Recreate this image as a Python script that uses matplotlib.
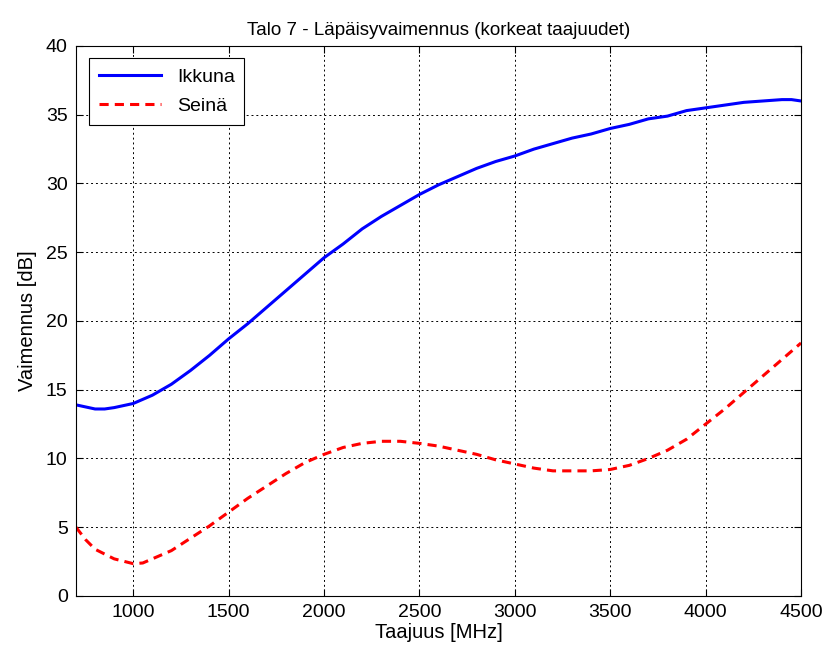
import numpy as np
import matplotlib.pyplot as plt

plt.rcParams['font.family'] = ['Liberation Sans', 'DejaVu Sans']

freq_ikkuna = [700, 800, 850, 900, 1000, 1100, 1200, 1300, 1400, 1500, 1600, 1700, 1800, 1900,
               2000, 2100, 2200, 2300, 2400, 2500, 2600, 2700, 2800, 2900, 3000, 3100, 3200,
               3300, 3400, 3500, 3600, 3700, 3800, 3900, 4000, 4100, 4200, 4300, 4400, 4450, 4500]
ikkuna = [13.9, 13.6, 13.6, 13.7, 14.0, 14.6, 15.4, 16.4, 17.5, 18.7, 19.8, 21.0, 22.2, 23.4,
          24.6, 25.6, 26.7, 27.6, 28.4, 29.2, 29.9, 30.5, 31.1, 31.6, 32.0, 32.5, 32.9,
          33.3, 33.6, 34.0, 34.3, 34.7, 34.9, 35.3, 35.5, 35.7, 35.9, 36.0, 36.1, 36.1, 36.0]

freq_seina = [700, 750, 800, 900, 1000, 1050, 1100, 1200, 1300, 1400, 1500, 1600, 1700, 1800,
              1900, 2000, 2100, 2200, 2300, 2400, 2500, 2600, 2700, 2800, 2900, 3000, 3100,
              3200, 3300, 3400, 3500, 3600, 3700, 3800, 3900, 4000, 4100, 4200, 4300, 4400, 4500]
seina = [5.0, 4.1, 3.4, 2.7, 2.35, 2.4, 2.7, 3.3, 4.2, 5.1, 6.1, 7.1, 8.0, 8.9,
         9.7, 10.3, 10.8, 11.1, 11.25, 11.25, 11.1, 10.9, 10.6, 10.3, 9.9, 9.6, 9.3,
         9.1, 9.1, 9.1, 9.2, 9.5, 10.0, 10.6, 11.4, 12.5, 13.6, 14.8, 16.0, 17.2, 18.4]

fig = plt.figure(figsize=(8.27, 6.55), dpi=100)
ax = fig.add_axes([0.0919, 0.0901, 0.8767, 0.8397])

ax.plot(freq_ikkuna, ikkuna, color='blue', lw=2.2, label='Ikkuna')
ax.plot(freq_seina, seina, color='red', lw=2.2, ls=(0, (3, 2)), label='Seinä')

ax.set_xlim(700, 4500)
ax.set_ylim(0, 40)
ax.set_xticks(np.arange(1000, 4501, 500))
ax.set_yticks(np.arange(0, 41, 5))
ax.grid(True, color='black', ls=(0, (2, 3)), lw=0.7)
ax.tick_params(direction='in', top=True, right=True, labelsize=14, length=5, pad=6)
for s in ax.spines.values():
    s.set_linewidth(0.8)

ax.set_title('Talo 7 - Läpäisyvaimennus (korkeat taajuudet)', fontsize=13.5, pad=8)
ax.set_xlabel('Taajuus [MHz]', fontsize=14.5, labelpad=1)
ax.set_ylabel('Vaimennus [dB]', fontsize=14.5, labelpad=6)

leg = ax.legend(loc='upper left', fontsize=14, fancybox=False, framealpha=1,
                edgecolor='black', handlelength=3.2, borderpad=0.5, labelspacing=0.6,
                bbox_to_anchor=(0.005, 0.995))
leg.get_frame().set_linewidth(0.8)

fig.savefig('out.png', dpi=100)
